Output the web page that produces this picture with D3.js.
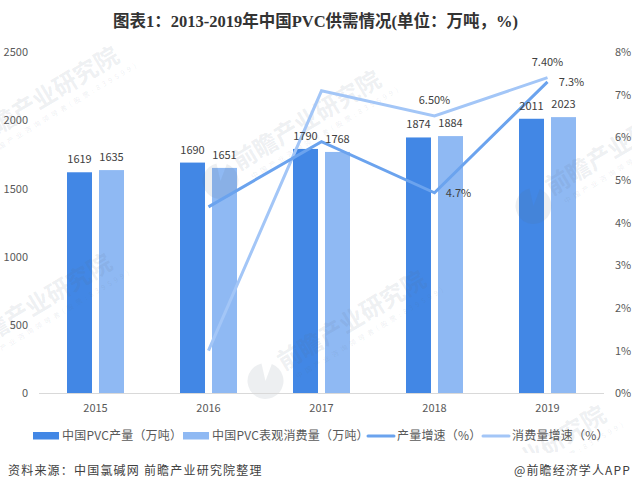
<!DOCTYPE html>
<html>
<head>
<meta charset="utf-8">
<script src="https://cdn.jsdelivr.net/npm/d3@7"></script>
<style>
html,body{margin:0;padding:0;background:#fff;}
text{font-family:"Noto Sans CJK SC","Noto Sans",sans-serif;}
</style>
</head>
<body>
<script>
var years = ["2015","2016","2017","2018","2019"];
var output = [1619,1690,1790,1874,2011];
var consumption = [1635,1651,1768,1884,2023];
// 2015 has no growth value in the chart
var outputGrowth = [null,4.37,5.9,4.7,7.3];
var consumptionGrowth = [null,1.0,7.09,6.5,7.4];
var leftTicks = [0,500,1000,1500,2000,2500];
var rightTicks = [0,1,2,3,4,5,6,7,8];
var growthLabels = {out:[null,null,null,"4.7%","7.3%"], cons:[null,null,null,"6.50%","7.40%"]};
var legendNames = ["中国PVC产量（万吨）","中国PVC表观消费量（万吨）","产量增速（%）","消费量增速（%）"];

var svg = d3.select("body").append("svg").attr("width",632).attr("height",491).style("display","block");

var x = d3.scaleBand().domain(years).range([39,604]);
var yL = d3.scaleLinear().domain([0,2500]).range([393.3,52]);
var yR = d3.scaleLinear().domain([0,8]).range([393.3,52]);

var DARK="#4287e5", LIGHT="#8fb9f3", LINE1="#6ba3ee", LINE2="#a3c6f7", TXT="#595959", LBL="#404040";

//棒
var barW=25, gap=7;
svg.append("g").selectAll("rect").data(output).enter().append("rect")
	.attr("x",function(d,i){return x(years[i])+x.bandwidth()/2-gap/2-barW;})
	.attr("y",function(d){return yL(d);})
	.attr("width",barW)
	.attr("height",function(d){return yL(0)-yL(d);})
	.attr("fill",DARK);
svg.append("g").selectAll("rect").data(consumption).enter().append("rect")
	.attr("x",function(d,i){return x(years[i])+x.bandwidth()/2+gap/2;})
	.attr("y",function(d){return yL(d);})
	.attr("width",barW)
	.attr("height",function(d){return yL(0)-yL(d);})
	.attr("fill",LIGHT);

//水印 (棒の上に薄く重なる)
var wm = svg.append("g").attr("fill","#5a6a80").attr("fill-opacity",0.11);
var logo = d3.arc().innerRadius(0).outerRadius(18).startAngle(0.9).endAngle(6.6);
[[-23,147],[239,171],[-30,354],[284,371],[552,196],[464,506]].forEach(function(p){
	var g = wm.append("g").attr("transform","translate("+p[0]+","+p[1]+") rotate(-31)");
	g.append("text").attr("font-size",24).attr("font-weight",700).text("前瞻产业研究院");
	g.append("text").attr("x",8).attr("y",14).attr("font-size",7)
		.attr("textLength",170).attr("lengthAdjust","spacing").text("中国产业咨询领导者(股票:839599)");
	g.append("path").attr("d",logo()).attr("transform","translate(-21,-1)");
});
//フッター部分は水印なし
svg.append("rect").attr("x",0).attr("y",453).attr("width",632).attr("height",38).attr("fill","#fff");

//軸
svg.append("line").attr("x1",39).attr("x2",604).attr("y1",393.5).attr("y2",393.5).attr("stroke","#d9d9d9").attr("stroke-width",1);
svg.append("g").selectAll("text").data(leftTicks).enter().append("text")
	.attr("x",28).attr("y",function(d){return yL(d)+4;}).attr("text-anchor","end")
	.attr("font-size",11).attr("fill",TXT).text(function(d){return d;});
svg.append("g").selectAll("text").data(rightTicks).enter().append("text")
	.attr("x",615).attr("y",function(d){return yR(d)+4;})
	.attr("font-size",11).attr("fill",TXT).text(function(d){return d+"%";});
svg.append("g").selectAll("text").data(years).enter().append("text")
	.attr("x",function(d){return x(d)+x.bandwidth()/2;}).attr("y",412).attr("text-anchor","middle")
	.attr("font-size",11).attr("fill",TXT).text(function(d){return d;});

//線
var line = d3.line().defined(function(d){return d!==null;})
	.x(function(d,i){return x(years[i])+x.bandwidth()/2;})
	.y(function(d){return yR(d);});
svg.append("path").attr("d",line(consumptionGrowth)).attr("fill","none").attr("stroke",LINE2).attr("stroke-width",3);
svg.append("path").attr("d",line(outputGrowth)).attr("fill","none").attr("stroke",LINE1).attr("stroke-width",3);

//ラベル
svg.append("g").selectAll("text").data(output).enter().append("text")
	.attr("x",function(d,i){return x(years[i])+x.bandwidth()/2-gap/2-barW/2;})
	.attr("y",function(d){return yL(d)-9;}).attr("text-anchor","middle")
	.attr("font-size",11).attr("fill",LBL).text(function(d){return d;});
svg.append("g").selectAll("text").data(consumption).enter().append("text")
	.attr("x",function(d,i){return x(years[i])+x.bandwidth()/2+gap/2+barW/2;})
	.attr("y",function(d){return yL(d)-9;}).attr("text-anchor","middle")
	.attr("font-size",11).attr("fill",LBL).text(function(d){return d;});
growthLabels.cons.forEach(function(t,i){
	if(!t) return;
	svg.append("text").attr("x",x(years[i])+x.bandwidth()/2).attr("y",yR(consumptionGrowth[i])-12)
		.attr("text-anchor","middle").attr("font-size",11).attr("fill",LBL).text(t);
});
growthLabels.out.forEach(function(t,i){
	if(!t) return;
	svg.append("text").attr("x",x(years[i])+x.bandwidth()/2+24).attr("y",yR(outputGrowth[i])+4)
		.attr("text-anchor","middle").attr("font-size",11).attr("fill",LBL).text(t);
});

//タイトル
svg.append("text").attr("x",315.5).attr("y",27).attr("text-anchor","middle")
	.attr("font-size",16.5).attr("font-weight",700).attr("fill","#333")
	.style("font-family",'"Liberation Serif","Noto Sans CJK SC",serif')
	.text("图表1：2013-2019年中国PVC供需情况(单位：万吨，%)");

//凡例
var legendX = [33,183,368,483];
legendNames.forEach(function(n,i){
	if(i<2){
		svg.append("rect").attr("x",legendX[i]).attr("y",432).attr("width",26).attr("height",7.5).attr("fill",i==0?DARK:LIGHT);
	}else{
		svg.append("line").attr("x1",legendX[i]).attr("x2",legendX[i]+26).attr("y1",436).attr("y2",436)
			.attr("stroke",i==2?LINE1:LINE2).attr("stroke-width",3).attr("stroke-linecap","round");
	}
	svg.append("text").attr("x",legendX[i]+29).attr("y",440).attr("font-size",12).attr("letter-spacing",0.2).attr("fill",TXT).text(n);
});

//出典
svg.append("text").attr("x",8).attr("y",474.5).attr("font-size",12).attr("letter-spacing",1.2).attr("fill","#404040")
	.text("资料来源：中国氯碱网 前瞻产业研究院整理");
svg.append("text").attr("x",514).attr("y",474.5).attr("font-size",12).attr("letter-spacing",1.1).attr("fill","#404040")
	.text("@前瞻经济学人APP");
</script>
</body>
</html>
